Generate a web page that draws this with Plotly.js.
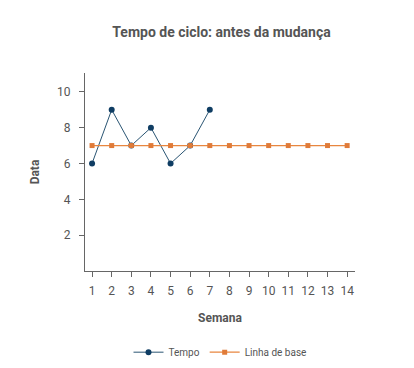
<!DOCTYPE html>
<html><head><meta charset="utf-8">
<script src="https://cdn.plot.ly/plotly-3.0.1.min.js"></script>
<style>html,body{margin:0;padding:0;background:#fff}#c{width:414px;height:368px}</style>
</head><body><div id="c"></div>
<script>
const semanas = [1,2,3,4,5,6,7,8,9,10,11,12,13,14];
const tempoSemanas = [1,2,3,4,5,6,7];
const tempo = [6,9,7,8,6,7,9];
const linhaBase = [7,7,7,7,7,7,7,7,7,7,7,7,7,7];
const yTicks = [2,4,6,8,10];

const font = 'Roboto, "Open Sans", sans-serif';
const data = [
  {x: tempoSemanas, y: tempo, name: 'Tempo', type: 'scatter', mode: 'lines+markers',
   line: {color: '#2a5573', width: 1}, marker: {color: '#0f3d63', size: 6, symbol: 'circle'}},
  {x: semanas, y: linhaBase, name: 'Linha de base', type: 'scatter', mode: 'lines+markers',
   line: {color: '#e8863f', width: 1.2}, marker: {color: '#e07b39', size: 5, symbol: 'square'}}
];
const layout = {
  width: 414, height: 368,
  margin: {l: 85, r: 59, t: 73, b: 97},
  paper_bgcolor: '#fff', plot_bgcolor: '#fff',
  font: {family: font, color: '#555', size: 12},
  title: {text: '<b>Tempo de ciclo: antes da mudança</b>', x: 0.535, xanchor: 'center', y: 0.913, yanchor: 'middle',
          font: {size: 14, color: '#555', family: font}},
  xaxis: {range: [0.64, 14.4], tickvals: semanas, showgrid: false, zeroline: false, automargin: false,
          showline: true, linecolor: '#666', linewidth: 1, ticks: 'outside', ticklen: 5, tickcolor: '#666',
          ticklabelstandoff: 4,
          tickfont: {size: 12, color: '#555'},
          title: {text: '<b>Semana</b>', font: {size: 12, color: '#555'}, standoff: 16}},
  yaxis: {range: [0, 11.05], tickvals: yTicks, showgrid: false, zeroline: false, automargin: false,
          showline: true, linecolor: '#666', linewidth: 1, ticks: 'outside', ticklen: 5, tickcolor: '#666',
          ticklabelstandoff: 6,
          tickfont: {size: 12, color: '#555'},
          title: {text: '<b>Data</b>', font: {size: 12, color: '#555'}, standoff: 14}},
  showlegend: true,
  legend: {orientation: 'h', x: 0.5, xanchor: 'center', yref: 'container', y: 0.043, yanchor: 'middle',
           font: {size: 10, color: '#555'}}
};
Plotly.newPlot('c', data, layout, {displayModeBar: false, staticPlot: true});
</script></body></html>
